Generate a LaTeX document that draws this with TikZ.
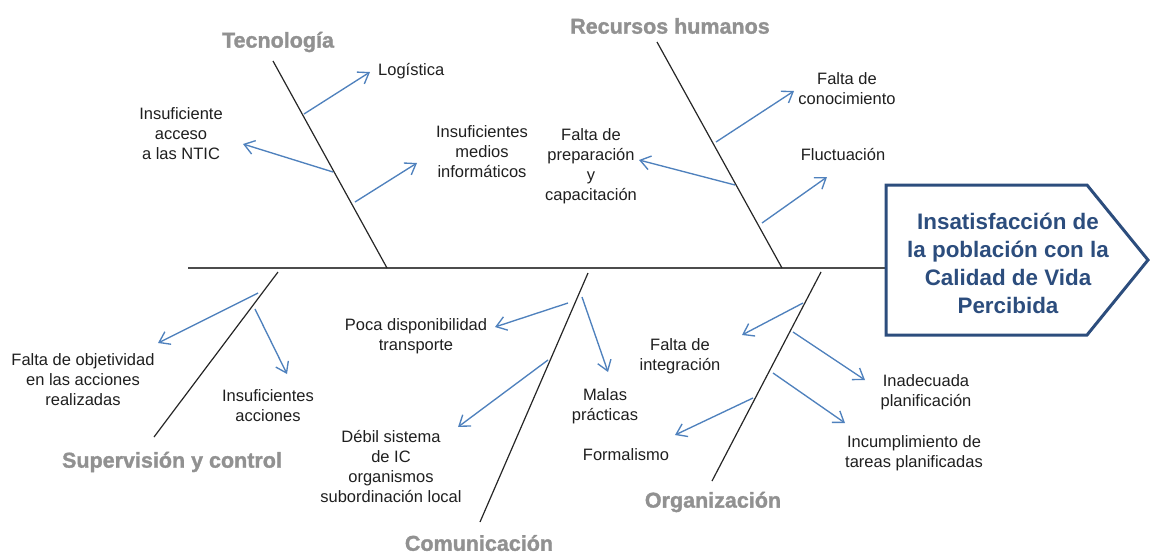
\documentclass[tikz,border=0pt]{standalone}
\usepackage{fontspec}
\setmainfont{Liberation Sans}
\newfontfamily\catfont[FakeBold=1.4]{Liberation Sans}
\usetikzlibrary{arrows.meta}
\definecolor{arrowblue}{RGB}{79,129,189}
\definecolor{headblue}{RGB}{44,77,125}
\definecolor{catgray}{RGB}{145,145,145}
\begin{document}
\begin{tikzpicture}[x=1pt,y=-1pt,
  bone/.style={draw=black!85, line width=1.2pt},
  spine/.style={draw=black!70, line width=1.6pt},
  cause/.style={draw=arrowblue, line width=1.35pt, -{Straight Barb[length=10pt,width=14pt]}},
  lbl/.style={font=\fontsize{16.5}{20}\selectfont, text=black!88, align=center, inner sep=0pt},
  cat/.style={font=\catfont\fontsize{21.5}{24}\selectfont\bfseries, text=catgray, inner sep=0pt},
  headtxt/.style={font=\fontsize{22.4}{28}\selectfont\bfseries, text=headblue, align=center, inner sep=0pt},
]
\useasboundingbox (0,0) rectangle (1150,554);

% spine and head
\coordinate (spineL) at (188,268);
\coordinate (headW) at (886,268);
\draw[spine] (spineL) -- (headW);
\draw[draw=headblue, line width=3pt, line join=miter]
  (886,185) -- (1087,185) -- (1148,260) -- (1087,335) -- (886,335) -- cycle;
\node[headtxt] (head) at (1008,263) {Insatisfacción de\\la población con la\\Calidad de Vida\\Percibida};

% bones
\coordinate (tecT) at (273,61);  \coordinate (tecB) at (387,268);
\coordinate (rhT) at (657,42);   \coordinate (rhB) at (782,268);
\coordinate (supT) at (278,272); \coordinate (supB) at (154,437);
\coordinate (comT) at (588,273); \coordinate (comB) at (480,522);
\coordinate (orgT) at (821,272); \coordinate (orgB) at (712,481);
\draw[bone] (tecT) -- (tecB);
\draw[bone] (rhT) -- (rhB);
\draw[bone] (supT) -- (supB);
\draw[bone] (comT) -- (comB);
\draw[bone] (orgT) -- (orgB);

% category labels
\node[cat] (cTec) at (278,42) {Tecnología};
\node[cat] (cRH) at (670,26) {Recursos humanos};
\node[cat] (cSup) at (172,462) {Supervisión y control};
\node[cat] (cCom) at (479,543) {Comunicación};
\node[cat] (cOrg) at (713,502) {Organización};

% Tecnologia causes
\node[lbl, anchor=west] (tLog) at (378,71) {Logística};
\node[lbl] (tNtic) at (181,134) {Insuficiente\\acceso\\a las NTIC};
\node[lbl] (tMed) at (482,152) {Insuficientes\\medios\\informáticos};
\coordinate (s1) at (304,114); \coordinate (e1) at (370,72);
\coordinate (s2) at (333,172); \coordinate (e2) at (243,144);
\coordinate (s3) at (355,202); \coordinate (e3) at (417,163);
\draw[cause] (s1) -- (e1);
\draw[cause] (s2) -- (e2);
\draw[cause] (s3) -- (e3);

% Recursos humanos causes
\node[lbl] (rCon) at (847,89) {Falta de\\conocimiento};
\node[lbl] (rFlu) at (843,155) {Fluctuación};
\node[lbl] (rPre) at (591,166) {Falta de\\preparación\\y\\capacitación};
\coordinate (s4) at (716,142); \coordinate (e4) at (794,91);
\coordinate (s5) at (762,223); \coordinate (e5) at (827,177);
\coordinate (s6) at (735,185); \coordinate (e6) at (639,160);
\draw[cause] (s4) -- (e4);
\draw[cause] (s5) -- (e5);
\draw[cause] (s6) -- (e6);

% Supervision causes
\node[lbl] (sObj) at (83,380) {Falta de objetividad\\en las acciones\\realizadas};
\node[lbl] (sAcc) at (268,406) {Insuficientes\\acciones};
\coordinate (s7) at (258,293); \coordinate (e7) at (158,343);
\coordinate (s8) at (255,309); \coordinate (e8) at (287,374);
\draw[cause] (s7) -- (e7);
\draw[cause] (s8) -- (e8);

% Comunicacion causes
\node[lbl] (mPoc) at (416,336) {Poca disponibilidad\\transporte};
\node[lbl] (mMal) at (605,406) {Malas\\prácticas};
\node[lbl] (mDeb) at (391,466) {Débil sistema\\de IC\\organismos\\subordinación local};
\coordinate (s9) at (568,303); \coordinate (e9) at (495,327);
\coordinate (s10) at (582,297); \coordinate (e10) at (608,372);
\coordinate (s11) at (548,360); \coordinate (e11) at (458,427);
\draw[cause] (s9) -- (e9);
\draw[cause] (s10) -- (e10);
\draw[cause] (s11) -- (e11);

% Organizacion causes
\node[lbl] (oInt) at (680,356) {Falta de\\integración};
\node[lbl] (oIna) at (926,392) {Inadecuada\\planificación};
\node[lbl] (oInc) at (914,453) {Incumplimiento de\\tareas planificadas};
\node[lbl] (oFor) at (626,455) {Formalismo};
\coordinate (s12) at (803,303); \coordinate (e12) at (742,335);
\coordinate (s13) at (793,332); \coordinate (e13) at (865,380);
\coordinate (s14) at (773,373); \coordinate (e14) at (845,423);
\coordinate (s15) at (753,398); \coordinate (e15) at (675,435);
\draw[cause] (s12) -- (e12);
\draw[cause] (s13) -- (e13);
\draw[cause] (s14) -- (e14);
\draw[cause] (s15) -- (e15);
\end{tikzpicture}
\end{document}
